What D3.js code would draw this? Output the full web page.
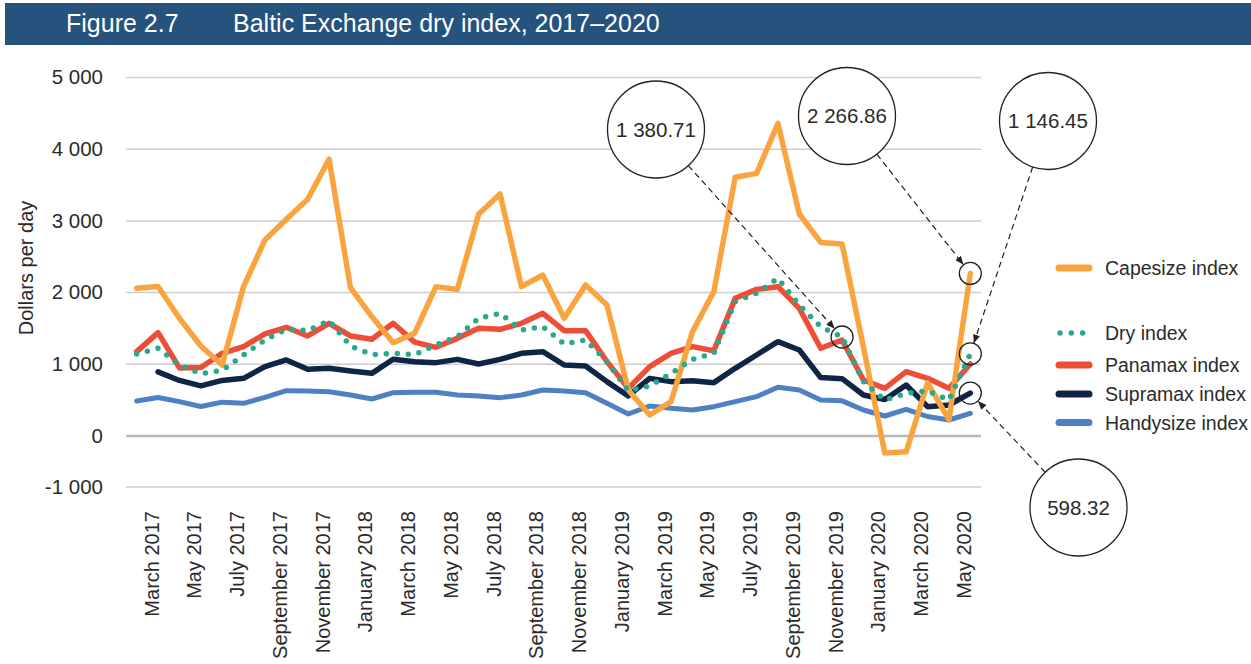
<!DOCTYPE html>
<html>
<head>
<meta charset="utf-8">
<script src="https://cdn.jsdelivr.net/npm/d3@7"></script>
<style>
  html, body { margin: 0; padding: 0; background: #ffffff; }
  svg { display: block; font-family: "Liberation Sans", Arial, Helvetica, sans-serif; }
</style>
</head>
<body>
<svg id="chart" width="1251" height="664"></svg>
<script>
// ---------------- DATA ----------------
const months = [
  "February 2017","March 2017","April 2017","May 2017","June 2017","July 2017","August 2017","September 2017",
  "October 2017","November 2017","December 2017","January 2018","February 2018","March 2018","April 2018","May 2018",
  "June 2018","July 2018","August 2018","September 2018","October 2018","November 2018","December 2018","January 2019",
  "February 2019","March 2019","April 2019","May 2019","June 2019","July 2019","August 2019","September 2019",
  "October 2019","November 2019","December 2019","January 2020","February 2020","March 2020","April 2020","May 2020"
];
const tickLabels = [
  "March 2017","May 2017","July 2017","September 2017","November 2017","January 2018","March 2018","May 2018",
  "July 2018","September 2018","November 2018","January 2019","March 2019","May 2019","July 2019","September 2019",
  "November 2019","January 2020","March 2020","May 2020"
];
const yTicks = [-1000, 0, 1000, 2000, 3000, 4000, 5000];

const capesize = [2060,2084,1642,1256,990,2084,2735,3023,3302,3860,2070,1665,1302,1432,2083,2045,3096,3375,2083,2245,
  1641,2106,1827,642,293,479,1455,2013,3608,3663,4361,3096,2700,2678,1240,-335,-310,740,228,2266.86];
const dry = [1144,1223,990,869,915,1130,1339,1488,1470,1609,1256,1135,1153,1135,1269,1385,1641,1711,1478,1525,
  1283,1339,1037,632,697,874,1069,1153,1874,1990,2199,1827,1525,1380.71,758,502,595,628,502,1146.45];
const panamax = [1177,1442,950,955,1153,1247,1423,1516,1395,1572,1395,1349,1572,1310,1237,1362,1502,1488,1572,1711,
  1469,1469,1037,665,967,1153,1246,1190,1920,2045,2083,1780,1223,1339,781,665,897,804,665,1004];
const supramax = [null,895,775,700,775,804,967,1060,930,944,907,874,1070,1037,1023,1069,1004,1069,1153,1176,
  990,976,758,558,804,758,772,744,944,1130,1316,1199,815,800,572,510,711,409,432,598.32];
const handysize = [488,537,479,412,472,456,539,632,628,618,572,516,604,609,609,572,558,535,572,642,
  628,604,456,307,418,386,363,409,479,549,679,642,502,490,363,279,372,272,223,316];

const seriesNames = ["Capesize index","Dry index","Panamax index","Supramax index","Handysize index"];

// ---------------- SETUP ----------------
const svg = d3.select("#chart");
const loc = d3.formatLocale({decimal: ".", thousands: " ", grouping: [3], currency: ["", ""], minus: "-"});
const fmtTick = loc.format(",");
const fmtVal = loc.format(",.2f");

const x = d3.scalePoint().domain(months).range([126, 981]).padding(0.5);
const y = d3.scaleLinear().domain([-1000, 0, 5000]).range([487, 436, 77.5]);

const textColor = "#2b2b2b";
const styles = {
  "Capesize index":  {color: "#f9a43f", width: 5.5},
  "Dry index":       {color: "#2aa88e", width: 5.5, dots: true},
  "Panamax index":   {color: "#ee4d38", width: 5.5},
  "Supramax index":  {color: "#0e2546", width: 5.5},
  "Handysize index": {color: "#4f80c3", width: 5}
};
const dataByName = {
  "Capesize index": capesize, "Dry index": dry, "Panamax index": panamax,
  "Supramax index": supramax, "Handysize index": handysize
};

// ---------------- TITLE BAR ----------------
svg.append("rect").attr("x", 5).attr("y", 3).attr("width", 1246).attr("height", 42).attr("fill", "#26527e");
svg.append("text").attr("x", 66).attr("y", 32).attr("fill", "#fff").attr("font-size", 25).text("Figure 2.7");
svg.append("text").attr("x", 233).attr("y", 32).attr("fill", "#fff").attr("font-size", 25)
  .text("Baltic Exchange dry index, 2017\u20132020");

// ---------------- GRID + Y AXIS ----------------
const grid = svg.append("g");
grid.selectAll("line").data(yTicks).join("line")
  .attr("x1", 126).attr("x2", 981)
  .attr("y1", d => y(d)).attr("y2", d => y(d))
  .attr("stroke", d => d === 0 ? "#b9b9b9" : "#cdcdcd")
  .attr("stroke-width", d => d === 0 ? 2.5 : 1.5);

const yAxis = svg.append("g").attr("transform", "translate(126,0)")
  .call(d3.axisLeft(y).tickValues(yTicks).tickFormat(fmtTick).tickSize(0).tickPadding(23));
yAxis.select(".domain").remove();
yAxis.selectAll("text").attr("font-size", 20.5).attr("fill", textColor)
  .attr("font-family", "'Liberation Sans', Arial, sans-serif").attr("dy", "0.3em");

svg.append("text")
  .attr("transform", "translate(33,268) rotate(-90)")
  .attr("text-anchor", "middle").attr("font-size", 20).attr("fill", textColor)
  .text("Dollars per day");

// ---------------- X AXIS LABELS ----------------
const xAxis = svg.append("g").attr("transform", "translate(0,511)")
  .call(d3.axisBottom(x).tickValues(tickLabels).tickSize(0).tickPadding(0));
xAxis.select(".domain").remove();
xAxis.selectAll("text")
  .attr("font-size", 20).attr("fill", textColor)
  .attr("font-family", "'Liberation Sans', Arial, sans-serif")
  .attr("text-anchor", "end")
  .attr("transform", "rotate(-90)")
  .attr("x", 0).attr("y", 0).attr("dy", "0em");

// ---------------- LINES ----------------
const line = d3.line()
  .defined(d => d.v !== null)
  .x(d => x(d.m)).y(d => y(d.v));

const drawOrder = ["Handysize index","Supramax index","Panamax index","Capesize index","Dry index"];
const lines = svg.append("g").attr("fill", "none");
drawOrder.forEach(name => {
  const vals = dataByName[name].map((v, i) => ({m: months[i], v: v}));
  const st = styles[name];
  const p = lines.append("path").datum(vals)
    .attr("d", line)
    .attr("stroke", st.color)
    .attr("stroke-width", st.width)
    .attr("stroke-linejoin", "round")
    .attr("stroke-linecap", "round");
  if (st.dots) p.attr("stroke-dasharray", "0 11");
});

// ---------------- LEGEND ----------------
const legendRows = [
  {name: "Capesize index", y: 268},
  {name: "Dry index", y: 333},
  {name: "Panamax index", y: 365},
  {name: "Supramax index", y: 394},
  {name: "Handysize index", y: 422.5}
];
const lg = svg.append("g");
legendRows.forEach(r => {
  const st = styles[r.name];
  lg.append("line")
    .attr("x1", st.dots ? 1060 : 1059).attr("x2", st.dots ? 1083 : 1089)
    .attr("y1", r.y).attr("y2", r.y)
    .attr("stroke", st.color).attr("stroke-width", st.dots ? 5.5 : 7)
    .attr("stroke-linecap", "round")
    .attr("stroke-dasharray", st.dots ? "0 11.3" : null);
  lg.append("text").attr("x", 1105).attr("y", r.y).attr("dy", "0.36em")
    .attr("font-size", 19.5).attr("fill", textColor).text(r.name);
});

// ---------------- CALLOUTS ----------------
const callouts = [
  {name: "Dry index", idx: 33, cx: 656, cy: 129.5},
  {name: "Capesize index", idx: 39, cx: 847, cy: 116},
  {name: "Dry index", idx: 39, cx: 1048, cy: 121},
  {name: "Supramax index", idx: 39, cx: 1078.5, cy: 507.5}
];
const defs = svg.append("defs");
defs.append("marker").attr("id", "arrow")
  .attr("viewBox", "0 0 10 8").attr("refX", 10).attr("refY", 4)
  .attr("markerWidth", 9).attr("markerHeight", 7).attr("markerUnits", "userSpaceOnUse")
  .attr("orient", "auto")
  .append("path").attr("d", "M0,0 L10,4 L0,8 z").attr("fill", "#222");

const co = svg.append("g");
const R = 48.5, r = 11;
callouts.forEach(c => {
  const v = dataByName[c.name][c.idx];
  const px = x(months[c.idx]), py = y(v);
  const dx = px - c.cx, dy = py - c.cy, L = Math.hypot(dx, dy);
  const ux = dx / L, uy = dy / L;
  co.append("circle").attr("cx", c.cx).attr("cy", c.cy).attr("r", R)
    .attr("fill", "#fff").attr("stroke", "#222").attr("stroke-width", 1.3);
  co.append("text").attr("x", c.cx).attr("y", c.cy).attr("dy", "0.36em")
    .attr("text-anchor", "middle").attr("font-size", 20.5).attr("fill", textColor)
    .text(fmtVal(v));
  co.append("circle").attr("cx", px).attr("cy", py).attr("r", r)
    .attr("fill", "none").attr("stroke", "#222").attr("stroke-width", 1.3);
  co.append("line")
    .attr("x1", c.cx + ux * R).attr("y1", c.cy + uy * R)
    .attr("x2", px - ux * r).attr("y2", py - uy * r)
    .attr("stroke", "#222").attr("stroke-width", 1.2)
    .attr("stroke-dasharray", "6 4")
    .attr("marker-end", "url(#arrow)");
});
</script>
</body>
</html>
